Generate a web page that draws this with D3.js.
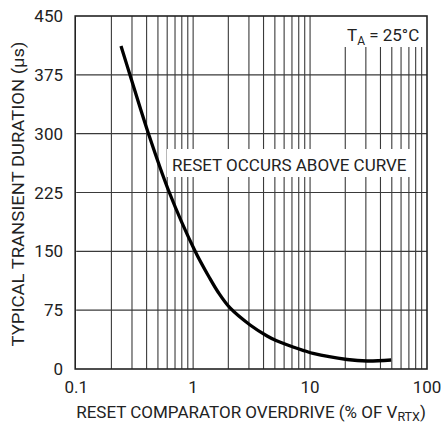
<!DOCTYPE html>
<html>
<head>
<meta charset="utf-8">
<script src="https://cdn.jsdelivr.net/npm/d3@7/dist/d3.min.js"></script>
<style>
  html, body { margin: 0; padding: 0; background: #fff; }
  svg { display: block; }
  text { font-family: 'Liberation Sans Narrow', 'Arial Narrow', 'Roboto', sans-serif; fill: #222; }
</style>
</head>
<body>
<svg id="chart" width="441" height="423"></svg>
<script>
// Data
const overdrive = [0.2416, 0.2885, 0.4138, 0.6137, 1.038, 1.368, 1.643, 2.069, 3.07, 4.29, 5.12, 7.15, 9.08, 10.61, 20.72, 30.73, 49.3];
const duration  = [411.8, 374.8, 300.5, 228.2, 150.4, 117.3, 97.5, 77.8, 56.1, 42.1, 36.3, 28.0, 22.9, 19.8, 12.1, 10.2, 11.5];
const xTicks = [0.1, 1, 10, 100];
const xTickLabels = ["0.1", "1", "10", "100"];
const yTicks = [0, 75, 150, 225, 300, 375, 450];
const yTickLabels = ["0", "75", "150", "225", "300", "375", "450"];

const svg = d3.select("#chart");
const L = 76.2, R = 427, T = 16, B = 369;

const x = d3.scaleLog().domain([0.1, 100]).range([L, R]);
const y = d3.scaleLinear().domain([0, 450]).range([B, T]);

// Vertical log grid
const gridX = [];
for (let dec = 0.1; dec < 100; dec *= 10) {
  for (let k = 1; k <= 9; k++) {
    const v = +(k * dec).toPrecision(3);
    if (v > 0.1 && v < 100) gridX.push(v);
  }
}
svg.append("g").selectAll("line").data(gridX).join("line")
  .attr("x1", d => x(d)).attr("x2", d => x(d))
  .attr("y1", T).attr("y2", B)
  .attr("stroke", "#3a3a3a").attr("stroke-width", 1.1);

// Horizontal grid
svg.append("g").selectAll("line").data(yTicks.filter(d => d > 0 && d < 450)).join("line")
  .attr("x1", L).attr("x2", R)
  .attr("y1", d => y(d)).attr("y2", d => y(d))
  .attr("stroke", "#3a3a3a").attr("stroke-width", 1.1);

// White label boxes
svg.append("rect").attr("x", 343).attr("y", T).attr("width", R - 343).attr("height", 31).attr("fill", "#fff");
svg.append("rect").attr("x", 167).attr("y", 149).attr("width", 243).attr("height", 28).attr("fill", "#fff");

// Frame
svg.append("rect").attr("x", L - 1).attr("y", T).attr("width", R - L + 1).attr("height", B - T)
  .attr("fill", "none").attr("stroke", "#222").attr("stroke-width", 1.6);

// Tick labels
svg.append("g").selectAll("text").data(yTicks).join("text")
  .attr("x", 63).attr("y", d => y(d)).attr("dy", "0.36em")
  .attr("text-anchor", "end").attr("font-size", 17)
  .text((d, i) => yTickLabels[i]);
svg.append("g").selectAll("text").data(xTicks).join("text")
  .attr("x", d => x(d)).attr("y", 393)
  .attr("text-anchor", "middle").attr("font-size", 17)
  .text((d, i) => xTickLabels[i]);

// Axis titles
const xt = svg.append("text").attr("x", 251).attr("y", 418).attr("text-anchor", "middle").attr("font-size", 17);
xt.append("tspan").text("RESET COMPARATOR OVERDRIVE (% OF V");
xt.append("tspan").attr("font-size", 12.5).attr("dy", 3).text("RTX");
xt.append("tspan").attr("dy", -3).text(")");

svg.append("text").attr("transform", "translate(24," + 194 + ") rotate(-90)")
  .attr("text-anchor", "middle").attr("font-size", 17)
  .attr("textLength", 305).attr("lengthAdjust", "spacingAndGlyphs")
  .text("TYPICAL TRANSIENT DURATION (µs)");

// Annotations
const ta = svg.append("text").attr("x", 347).attr("y", 41).attr("font-size", 17);
ta.append("tspan").text("T");
ta.append("tspan").attr("font-size", 12).attr("dy", 4).text("A");
ta.append("tspan").attr("dy", -4).text(" = 25°C");

svg.append("text").attr("x", 172).attr("y", 171).attr("font-size", 17)
  .text("RESET OCCURS ABOVE CURVE");

// Curve
const line = d3.line().x(d => x(d[0])).y(d => y(d[1])).curve(d3.curveCatmullRom.alpha(0.5));
svg.append("path").datum(overdrive.map((v, i) => [v, duration[i]]))
  .attr("d", line).attr("fill", "none").attr("stroke", "#000").attr("stroke-width", 3.3);
</script>
</body>
</html>
